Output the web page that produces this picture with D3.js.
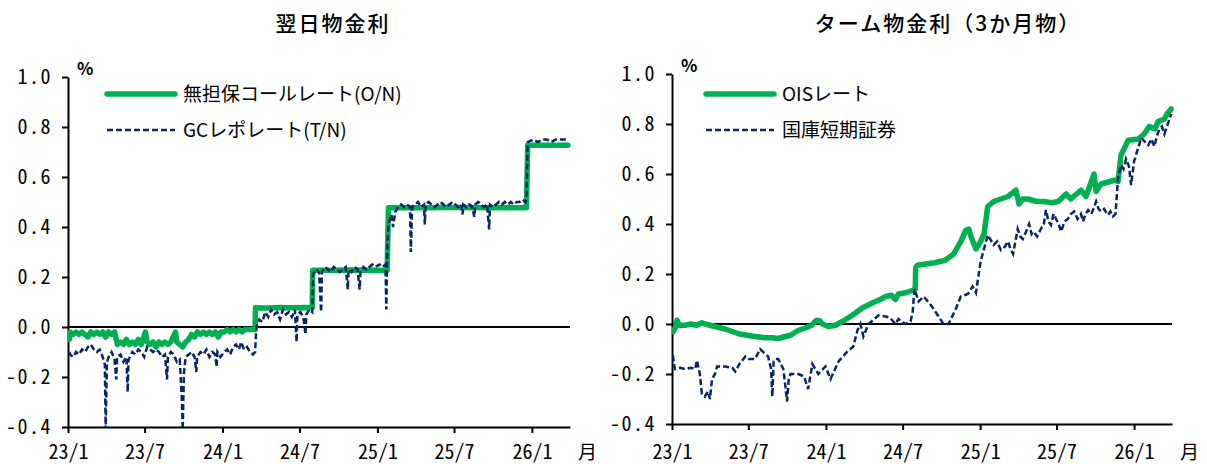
<!DOCTYPE html>
<html>
<head>
<meta charset="utf-8">
<script src="https://cdn.jsdelivr.net/npm/d3@7/dist/d3.min.js"></script>
<style>
  html, body { margin: 0; padding: 0; background: #fff; }
  svg { display: block; }
  .tick text, .mono { font-family: "Noto Sans Mono CJK JP", "Liberation Mono", monospace; font-size: 20px; fill: #000; }
  .cjk { font-family: "Noto Sans CJK JP", sans-serif; fill: #000; }
</style>
</head>
<body>
<svg id="chart" width="1207" height="464"></svg>
<script>
// ---- 軸の目盛り ----
const yTicks = [-0.4, -0.2, 0.0, 0.2, 0.4, 0.6, 0.8, 1.0];
const xTickDates = ["2023-01-01", "2023-07-01", "2024-01-01", "2024-07-01", "2025-01-01", "2025-07-01", "2026-01-01"];
const xTickLabels = ["23/1", "23/7", "24/1", "24/7", "25/1", "25/7", "26/1"];
const dateDomain = ["2023-01-01", "2026-04-01"];

// ---- 翌日物金利 ----
// 無担保コールレート（O/N）
const callRate = [
  ["2023-01-04", -0.05], ["2023-01-06", -0.02], ["2023-01-13", -0.03], ["2023-01-20", -0.02], ["2023-01-27", -0.03],
  ["2023-02-03", -0.02], ["2023-02-10", -0.03], ["2023-02-17", -0.04], ["2023-02-24", -0.02], ["2023-03-03", -0.03],
  ["2023-03-10", -0.02], ["2023-03-17", -0.03], ["2023-03-24", -0.02], ["2023-03-31", -0.04], ["2023-04-07", -0.02],
  ["2023-04-14", -0.03], ["2023-04-21", -0.02], ["2023-04-28", -0.07], ["2023-05-05", -0.06], ["2023-05-12", -0.07],
  ["2023-05-19", -0.05], ["2023-05-26", -0.07], ["2023-06-02", -0.06], ["2023-06-09", -0.07], ["2023-06-16", -0.05],
  ["2023-06-23", -0.07], ["2023-07-03", -0.02], ["2023-07-07", -0.06], ["2023-07-14", -0.07], ["2023-07-21", -0.06],
  ["2023-07-28", -0.08], ["2023-08-04", -0.06], ["2023-08-11", -0.07], ["2023-08-18", -0.06], ["2023-08-25", -0.07],
  ["2023-09-01", -0.06], ["2023-09-12", -0.02], ["2023-09-15", -0.06], ["2023-09-22", -0.07], ["2023-09-29", -0.08],
  ["2023-10-06", -0.06], ["2023-10-13", -0.05], ["2023-10-20", -0.03], ["2023-10-27", -0.04], ["2023-11-03", -0.02],
  ["2023-11-10", -0.03], ["2023-11-17", -0.02], ["2023-11-24", -0.03], ["2023-12-01", -0.02], ["2023-12-08", -0.03],
  ["2023-12-15", -0.02], ["2023-12-22", -0.04], ["2023-12-29", -0.02], ["2024-01-05", -0.02], ["2024-01-12", -0.01],
  ["2024-01-19", -0.02], ["2024-01-26", -0.01], ["2024-02-02", -0.02], ["2024-02-09", -0.01], ["2024-02-16", -0.02],
  ["2024-02-23", -0.01], ["2024-03-01", -0.01], ["2024-03-08", -0.01], ["2024-03-18", -0.01],
  ["2024-03-19", 0.077], ["2024-04-15", 0.076], ["2024-05-15", 0.078], ["2024-06-14", 0.077], ["2024-07-12", 0.078],
  ["2024-07-31", 0.077], ["2024-08-01", 0.227], ["2024-09-15", 0.227], ["2024-11-01", 0.228], ["2024-12-15", 0.227],
  ["2025-01-24", 0.227], ["2025-01-27", 0.477], ["2025-04-01", 0.477], ["2025-07-01", 0.478], ["2025-10-01", 0.477],
  ["2025-12-19", 0.477], ["2025-12-22", 0.727], ["2026-03-27", 0.727]
];

// GCレポレート（T/N）
const gcRepoRate = [
  ["2023-01-04", -0.10], ["2023-01-06", -0.11], ["2023-01-13", -0.12], ["2023-01-20", -0.10], ["2023-01-27", -0.11],
  ["2023-02-03", -0.09], ["2023-02-10", -0.10], ["2023-02-17", -0.08], ["2023-02-24", -0.07], ["2023-03-03", -0.09],
  ["2023-03-10", -0.10], ["2023-03-17", -0.09], ["2023-03-24", -0.12], ["2023-03-29", -0.15], ["2023-03-31", -0.41],
  ["2023-04-03", -0.14], ["2023-04-07", -0.12], ["2023-04-14", -0.10], ["2023-04-21", -0.13], ["2023-04-25", -0.21],
  ["2023-04-27", -0.12], ["2023-05-05", -0.11], ["2023-05-12", -0.14], ["2023-05-19", -0.12], ["2023-05-22", -0.26],
  ["2023-05-24", -0.13], ["2023-06-02", -0.10], ["2023-06-09", -0.11], ["2023-06-16", -0.09], ["2023-06-23", -0.10],
  ["2023-06-30", -0.12], ["2023-07-07", -0.08], ["2023-07-14", -0.09], ["2023-07-21", -0.10], ["2023-07-28", -0.09],
  ["2023-08-04", -0.10], ["2023-08-11", -0.12], ["2023-08-18", -0.11], ["2023-08-23", -0.21], ["2023-08-25", -0.12],
  ["2023-09-01", -0.10], ["2023-09-08", -0.11], ["2023-09-15", -0.14], ["2023-09-22", -0.13], ["2023-09-27", -0.29],
  ["2023-09-29", -0.41], ["2023-10-02", -0.18], ["2023-10-06", -0.12], ["2023-10-13", -0.11], ["2023-10-20", -0.10],
  ["2023-10-27", -0.12], ["2023-10-31", -0.18], ["2023-11-02", -0.12], ["2023-11-10", -0.10], ["2023-11-17", -0.11],
  ["2023-11-24", -0.09], ["2023-12-01", -0.12], ["2023-12-08", -0.10], ["2023-12-15", -0.11], ["2023-12-18", -0.16],
  ["2023-12-20", -0.10], ["2023-12-27", -0.12], ["2024-01-05", -0.10], ["2024-01-12", -0.09], ["2024-01-19", -0.11],
  ["2024-01-26", -0.08], ["2024-02-02", -0.07], ["2024-02-09", -0.09], ["2024-02-14", -0.06], ["2024-02-21", -0.09],
  ["2024-02-28", -0.08], ["2024-03-06", -0.10], ["2024-03-13", -0.11], ["2024-03-18", -0.10], ["2024-03-21", 0.00],
  ["2024-03-28", 0.03], ["2024-04-04", 0.02], ["2024-04-11", 0.06], ["2024-04-18", 0.04], ["2024-04-25", 0.07],
  ["2024-05-02", 0.05], ["2024-05-09", 0.06], ["2024-05-16", 0.03], ["2024-05-23", 0.07], ["2024-05-30", 0.05],
  ["2024-06-06", 0.06], ["2024-06-13", 0.04], ["2024-06-20", 0.07], ["2024-06-24", -0.06], ["2024-06-26", 0.05],
  ["2024-07-03", 0.06], ["2024-07-10", 0.04], ["2024-07-15", -0.03], ["2024-07-17", 0.05], ["2024-07-24", 0.07],
  ["2024-07-31", 0.06], ["2024-08-02", 0.21], ["2024-08-09", 0.23], ["2024-08-16", 0.22], ["2024-08-21", 0.06],
  ["2024-08-23", 0.22], ["2024-08-30", 0.24], ["2024-09-06", 0.23], ["2024-09-13", 0.22], ["2024-09-20", 0.24],
  ["2024-09-27", 0.23], ["2024-10-04", 0.22], ["2024-10-11", 0.23], ["2024-10-18", 0.24], ["2024-10-23", 0.15],
  ["2024-10-25", 0.23], ["2024-11-01", 0.22], ["2024-11-08", 0.24], ["2024-11-15", 0.23], ["2024-11-20", 0.15],
  ["2024-11-22", 0.22], ["2024-11-29", 0.24], ["2024-12-06", 0.23], ["2024-12-13", 0.24], ["2024-12-20", 0.25],
  ["2024-12-27", 0.24], ["2025-01-06", 0.25], ["2025-01-13", 0.24], ["2025-01-20", 0.25], ["2025-01-22", 0.07],
  ["2025-01-24", 0.30], ["2025-01-27", 0.40], ["2025-01-30", 0.43], ["2025-02-03", 0.45], ["2025-02-07", 0.40],
  ["2025-02-12", 0.46], ["2025-02-19", 0.48], ["2025-02-26", 0.49], ["2025-03-05", 0.48], ["2025-03-12", 0.49],
  ["2025-03-19", 0.48], ["2025-03-21", 0.30], ["2025-03-24", 0.48], ["2025-03-31", 0.49], ["2025-04-07", 0.50],
  ["2025-04-14", 0.48], ["2025-04-21", 0.49], ["2025-04-23", 0.41], ["2025-04-25", 0.49], ["2025-05-02", 0.50],
  ["2025-05-09", 0.49], ["2025-05-16", 0.48], ["2025-05-23", 0.49], ["2025-05-30", 0.50], ["2025-06-06", 0.49],
  ["2025-06-13", 0.48], ["2025-06-20", 0.49], ["2025-06-27", 0.50], ["2025-07-04", 0.49], ["2025-07-11", 0.48],
  ["2025-07-18", 0.49], ["2025-07-21", 0.45], ["2025-07-23", 0.49], ["2025-07-30", 0.48], ["2025-08-06", 0.49],
  ["2025-08-13", 0.48], ["2025-08-18", 0.44], ["2025-08-20", 0.49], ["2025-08-27", 0.50], ["2025-09-03", 0.49],
  ["2025-09-10", 0.48], ["2025-09-17", 0.49], ["2025-09-22", 0.39], ["2025-09-24", 0.49], ["2025-10-01", 0.48],
  ["2025-10-08", 0.49], ["2025-10-15", 0.50], ["2025-10-22", 0.49], ["2025-10-29", 0.50], ["2025-11-05", 0.49],
  ["2025-11-12", 0.50], ["2025-11-19", 0.49], ["2025-11-26", 0.50], ["2025-12-03", 0.50], ["2025-12-10", 0.51],
  ["2025-12-17", 0.50], ["2025-12-19", 0.51], ["2025-12-22", 0.74], ["2026-01-05", 0.75], ["2026-01-15", 0.74],
  ["2026-01-26", 0.75], ["2026-02-05", 0.75], ["2026-02-16", 0.74], ["2026-02-26", 0.75], ["2026-03-09", 0.75],
  ["2026-03-19", 0.75], ["2026-03-27", 0.75]
];

// ---- ターム物金利（3か月物） ----
// OISレート
const oisRate = [
  ["2023-01-04", -0.03], ["2023-01-10", -0.01], ["2023-01-13", 0.015], ["2023-01-18", -0.005], ["2023-02-01", -0.005],
  ["2023-02-15", 0.0], ["2023-03-01", -0.005], ["2023-03-13", 0.005], ["2023-03-20", 0.0], ["2023-04-01", -0.005],
  ["2023-04-13", -0.01], ["2023-04-25", -0.015], ["2023-05-07", -0.02], ["2023-05-24", -0.03], ["2023-06-10", -0.04],
  ["2023-06-28", -0.045], ["2023-07-17", -0.05], ["2023-08-10", -0.055], ["2023-08-27", -0.055], ["2023-09-10", -0.058],
  ["2023-09-27", -0.05], ["2023-10-09", -0.045], ["2023-10-28", -0.025], ["2023-11-15", -0.015], ["2023-11-28", -0.005],
  ["2023-12-10", 0.015], ["2023-12-18", 0.012], ["2023-12-24", 0.0], ["2024-01-07", -0.01], ["2024-01-24", -0.005],
  ["2024-02-09", 0.01], ["2024-03-04", 0.035], ["2024-03-28", 0.065], ["2024-04-21", 0.085], ["2024-05-05", 0.095],
  ["2024-05-22", 0.11], ["2024-06-05", 0.115], ["2024-06-14", 0.098], ["2024-06-21", 0.12], ["2024-07-08", 0.125],
  ["2024-07-25", 0.135], ["2024-07-31", 0.14], ["2024-08-01", 0.225], ["2024-08-05", 0.235], ["2024-08-25", 0.24],
  ["2024-09-15", 0.245], ["2024-10-10", 0.255], ["2024-10-30", 0.28], ["2024-11-16", 0.33], ["2024-11-28", 0.375],
  ["2024-12-05", 0.38], ["2024-12-10", 0.35], ["2024-12-22", 0.30], ["2025-01-02", 0.33], ["2025-01-10", 0.36],
  ["2025-01-19", 0.47], ["2025-02-02", 0.49], ["2025-02-19", 0.50], ["2025-03-08", 0.51], ["2025-03-27", 0.535],
  ["2025-04-03", 0.48], ["2025-04-12", 0.50], ["2025-04-24", 0.50], ["2025-05-15", 0.49], ["2025-06-01", 0.49],
  ["2025-06-20", 0.485], ["2025-07-05", 0.49], ["2025-07-24", 0.52], ["2025-08-04", 0.50], ["2025-08-28", 0.535],
  ["2025-09-09", 0.51], ["2025-09-28", 0.60], ["2025-10-03", 0.53], ["2025-10-15", 0.56], ["2025-11-15", 0.575],
  ["2025-11-24", 0.57], ["2025-12-01", 0.675], ["2025-12-18", 0.735], ["2026-01-11", 0.74], ["2026-01-25", 0.76],
  ["2026-02-06", 0.79], ["2026-02-20", 0.78], ["2026-02-27", 0.81], ["2026-03-14", 0.82], ["2026-03-20", 0.84],
  ["2026-03-30", 0.86]
];

// 国庫短期証券
const tBillRate = [
  ["2023-01-03", -0.125], ["2023-01-06", -0.16], ["2023-01-08", -0.18], ["2023-01-20", -0.175], ["2023-02-01", -0.18],
  ["2023-02-15", -0.175], ["2023-02-25", -0.18], ["2023-03-01", -0.145], ["2023-03-08", -0.20], ["2023-03-13", -0.28],
  ["2023-03-20", -0.29], ["2023-03-27", -0.27], ["2023-04-01", -0.30], ["2023-04-06", -0.22], ["2023-04-13", -0.20],
  ["2023-04-18", -0.17], ["2023-05-07", -0.17], ["2023-05-24", -0.175], ["2023-05-31", -0.19], ["2023-06-10", -0.16],
  ["2023-06-24", -0.13], ["2023-07-01", -0.14], ["2023-07-17", -0.14], ["2023-07-29", -0.10], ["2023-08-10", -0.12],
  ["2023-08-17", -0.13], ["2023-08-24", -0.18], ["2023-08-27", -0.29], ["2023-08-30", -0.15], ["2023-09-03", -0.14],
  ["2023-09-10", -0.14], ["2023-09-22", -0.18], ["2023-09-27", -0.25], ["2023-10-01", -0.31], ["2023-10-05", -0.22],
  ["2023-10-09", -0.20], ["2023-10-28", -0.20], ["2023-11-10", -0.21], ["2023-11-20", -0.26], ["2023-11-30", -0.16],
  ["2023-12-14", -0.20], ["2023-12-31", -0.17], ["2024-01-12", -0.22], ["2024-01-31", -0.15], ["2024-02-21", -0.11],
  ["2024-03-06", -0.09], ["2024-03-16", -0.025], ["2024-03-23", 0.0], ["2024-03-30", -0.05], ["2024-04-11", 0.0],
  ["2024-04-25", 0.02], ["2024-05-05", 0.035], ["2024-05-22", 0.03], ["2024-06-01", 0.025], ["2024-06-14", 0.0],
  ["2024-06-21", 0.02], ["2024-07-08", 0.0], ["2024-07-20", 0.01], ["2024-07-25", 0.05], ["2024-07-29", 0.14],
  ["2024-08-08", 0.09], ["2024-08-20", 0.11], ["2024-09-06", 0.076], ["2024-09-22", 0.036], ["2024-10-06", 0.0],
  ["2024-10-18", 0.0], ["2024-11-04", 0.06], ["2024-11-16", 0.11], ["2024-12-03", 0.12], ["2024-12-14", 0.15],
  ["2024-12-22", 0.125], ["2025-01-02", 0.25], ["2025-01-19", 0.356], ["2025-02-02", 0.316], ["2025-02-10", 0.33],
  ["2025-02-19", 0.296], ["2025-03-01", 0.31], ["2025-03-08", 0.33], ["2025-03-14", 0.30], ["2025-03-20", 0.28],
  ["2025-03-31", 0.38], ["2025-04-06", 0.35], ["2025-04-12", 0.34], ["2025-04-20", 0.37], ["2025-04-27", 0.40],
  ["2025-05-03", 0.36], ["2025-05-08", 0.37], ["2025-05-16", 0.35], ["2025-05-25", 0.38], ["2025-06-01", 0.40],
  ["2025-06-06", 0.456], ["2025-06-12", 0.41], ["2025-06-18", 0.396], ["2025-06-24", 0.44], ["2025-06-30", 0.42],
  ["2025-07-06", 0.40], ["2025-07-12", 0.37], ["2025-07-20", 0.41], ["2025-07-28", 0.42], ["2025-08-04", 0.44],
  ["2025-08-12", 0.45], ["2025-08-20", 0.42], ["2025-08-28", 0.44], ["2025-09-02", 0.41], ["2025-09-08", 0.44],
  ["2025-09-14", 0.456], ["2025-09-22", 0.44], ["2025-10-03", 0.49], ["2025-10-09", 0.46], ["2025-10-15", 0.45],
  ["2025-10-22", 0.46], ["2025-10-31", 0.436], ["2025-11-06", 0.45], ["2025-11-12", 0.43], ["2025-11-18", 0.44],
  ["2025-11-24", 0.585], ["2025-12-01", 0.636], ["2025-12-07", 0.62], ["2025-12-13", 0.66], ["2025-12-20", 0.63],
  ["2025-12-25", 0.556], ["2026-01-01", 0.65], ["2026-01-10", 0.70], ["2026-01-18", 0.745], ["2026-01-26", 0.73],
  ["2026-02-04", 0.716], ["2026-02-11", 0.74], ["2026-02-18", 0.71], ["2026-02-24", 0.75], ["2026-03-02", 0.78],
  ["2026-03-08", 0.79], ["2026-03-14", 0.76], ["2026-03-22", 0.80], ["2026-03-30", 0.84]
];

const GREEN = "#00b050";
const NAVY = "#0a2566";
const parse = d3.timeParse("%Y-%m-%d");
const svg = d3.select("#chart");

const panels = [
  {
    id: "overnight", title: "翌日物金利", titleX: 333,
    x0: 68, x1: 570, yTop: 77, yBot: 427,
    solid: { data: callRate, label: "無担保コールレート(O/N)" },
    dashed: { data: gcRepoRate, label: "GCレポレート(T/N)" },
    legendX: 107
  },
  {
    id: "term", title: "ターム物金利（3か月物）", titleX: 948,
    x0: 672, x1: 1172, yTop: 74, yBot: 424,
    solid: { data: oisRate, label: "OISレート" },
    dashed: { data: tBillRate, label: "国庫短期証券" },
    legendX: 706
  }
];

panels.forEach(p => {
  const g = svg.append("g").attr("class", "panel-" + p.id);
  const x = d3.scaleTime().domain(dateDomain.map(parse)).range([p.x0, p.x1]);
  const y = d3.scaleLinear().domain([-0.4, 1.0]).range([p.yBot, p.yTop]);

  // タイトル
  g.append("text").attr("class", "cjk")
    .attr("x", p.titleX).attr("y", 31)
    .attr("text-anchor", "middle")
    .attr("font-size", 21).attr("font-weight", 500)
    .attr("letter-spacing", 2)
    .text(p.title);

  // 縦軸
  const yAxis = d3.axisLeft(y).tickValues(yTicks).tickSize(6).tickSizeOuter(0)
    .tickPadding(10).tickFormat(d => d.toFixed(1));
  const ya = g.append("g").attr("transform", `translate(${p.x0},0)`).call(yAxis);
  ya.selectAll(".tick text").attr("letter-spacing", 1.5);

  // 横軸
  const xAxis = d3.axisBottom(x).tickValues(xTickDates.map(parse)).tickSize(6).tickSizeOuter(0)
    .tickPadding(459 - p.yBot - 6 - 14.5).tickFormat((d, i) => xTickLabels[i]);
  const xa = g.append("g").attr("transform", `translate(0,${p.yBot})`).call(xAxis);

  [ya, xa].forEach(a => {
    a.select(".domain").attr("stroke", "#000").attr("stroke-width", 2);
    a.selectAll(".tick line").attr("stroke", "#000").attr("stroke-width", 2);
  });

  // 単位
  g.append("text").attr("class", "cjk")
    .attr("x", p.x0 + 9).attr("y", p.yTop - 2)
    .attr("font-size", 17).attr("font-weight", 700).text("%");
  g.append("text").attr("class", "cjk")
    .attr("x", p.x1 + 8).attr("y", 459)
    .attr("font-size", 19).text("月");

  // ゼロ線
  g.append("line")
    .attr("x1", p.x0).attr("x2", p.x1)
    .attr("y1", y(0)).attr("y2", y(0))
    .attr("stroke", "#000").attr("stroke-width", 2);

  // 系列
  g.append("clipPath").attr("id", "clip-" + p.id)
    .append("rect").attr("x", p.x0).attr("y", p.yTop - 10)
    .attr("width", p.x1 - p.x0 + 10).attr("height", p.yBot - p.yTop + 10);

  const line = d3.line().x(d => x(parse(d[0]))).y(d => y(d[1])).curve(d3.curveLinear);

  g.append("path").datum(p.solid.data)
    .attr("clip-path", `url(#clip-${p.id})`)
    .attr("fill", "none").attr("stroke", GREEN).attr("stroke-width", 5.5)
    .attr("stroke-linejoin", "round").attr("stroke-linecap", "round")
    .attr("d", line);

  g.append("path").datum(p.dashed.data)
    .attr("clip-path", `url(#clip-${p.id})`)
    .attr("fill", "none").attr("stroke", NAVY).attr("stroke-width", 2.5)
    .attr("stroke-dasharray", "6,3")
    .attr("d", line);

  // 凡例
  const lg = g.append("g");
  const lx = p.legendX;
  lg.append("line").attr("x1", lx).attr("x2", lx + 68).attr("y1", 94).attr("y2", 94)
    .attr("stroke", GREEN).attr("stroke-width", 5.5).attr("stroke-linecap", "round");
  lg.append("text").attr("class", "cjk").attr("x", lx + 76).attr("y", 101)
    .attr("font-size", 19).text(p.solid.label);
  lg.append("line").attr("x1", lx).attr("x2", lx + 68).attr("y1", 130).attr("y2", 130)
    .attr("stroke", NAVY).attr("stroke-width", 2.5).attr("stroke-dasharray", "6,3");
  lg.append("text").attr("class", "cjk").attr("x", lx + 76).attr("y", 137)
    .attr("font-size", 19).text(p.dashed.label);
});
</script>
</body>
</html>
